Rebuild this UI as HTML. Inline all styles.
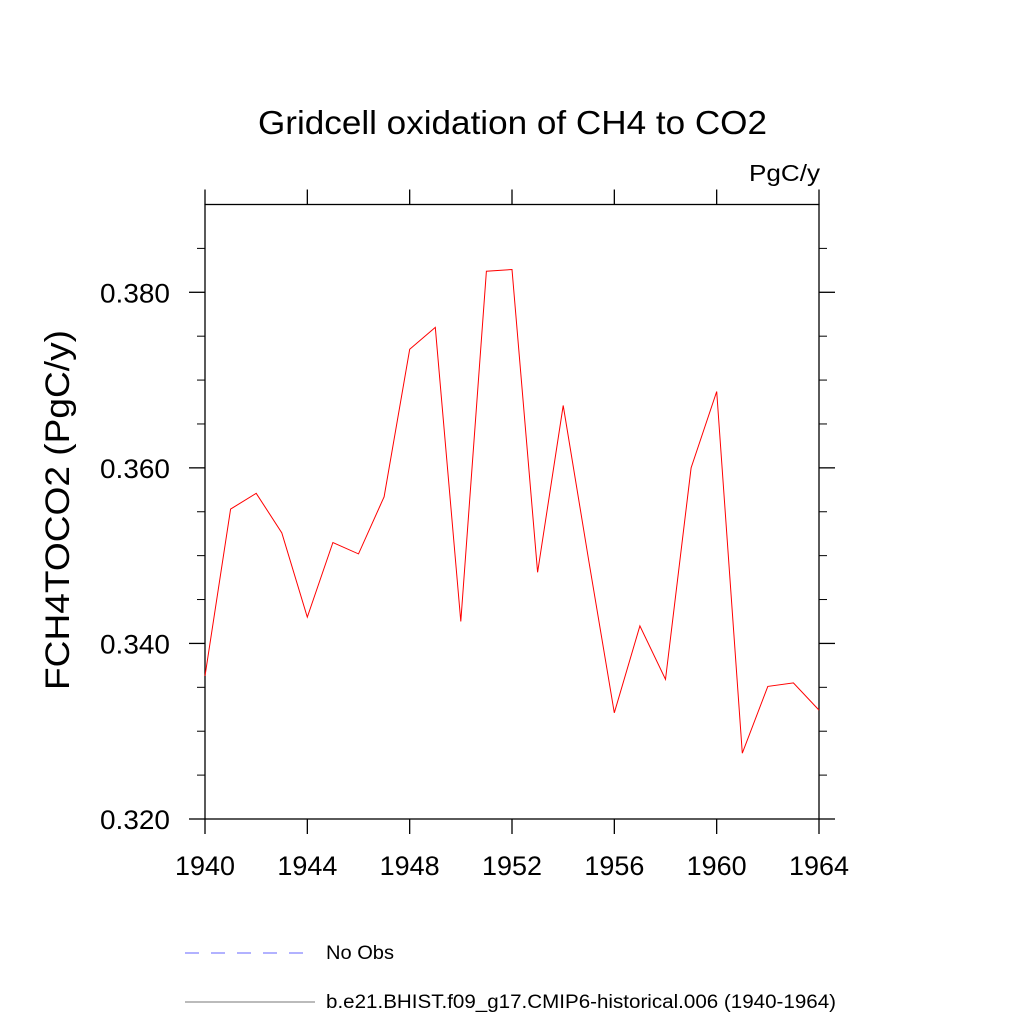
<!DOCTYPE html>
<html><head><meta charset="utf-8"><style>body{margin:0;background:#fff}svg{display:block}text{font-family:"Liberation Sans",sans-serif}</style></head>
<body>
<svg id="chart" width="1024" height="1024">
<text x="258" y="134" font-size="33" textLength="509" lengthAdjust="spacingAndGlyphs">Gridcell oxidation of CH4 to CO2</text>
<text x="749" y="181" font-size="23" textLength="71" lengthAdjust="spacingAndGlyphs">PgC/y</text>
<text transform="translate(60,690) rotate(-90)" font-size="34" textLength="360" lengthAdjust="spacingAndGlyphs" dominant-baseline="middle">FCH4TOCO2  (PgC/y)</text>
<g id="axes"></g>
<g id="series"></g>
<g>
<line x1="185" y1="953" x2="315" y2="953" stroke="#66f" stroke-dasharray="14,12"/>
<text x="326" y="959" font-size="19" textLength="68" lengthAdjust="spacingAndGlyphs">No Obs</text>
<line x1="185" y1="1002" x2="315" y2="1002" stroke="#777"/>
<text x="326" y="1008" font-size="19" textLength="510" lengthAdjust="spacingAndGlyphs">b.e21.BHIST.f09_g17.CMIP6-historical.006 (1940-1964)</text>
</g>
</svg>
<script>
const years=[1940,1941,1942,1943,1944,1945,1946,1947,1948,1949,1950,1951,1952,1953,1954,1955,1956,1957,1958,1959,1960,1961,1962,1963,1964];
const values=[0.3363,0.3553,0.3571,0.3526,0.3430,0.3515,0.3502,0.3567,0.3735,0.3760,0.3425,0.3824,0.3826,0.3481,0.3671,0.3494,0.3321,0.3420,0.3359,0.3600,0.3687,0.3275,0.3351,0.3355,0.3324];
const xTicks=[1940,1944,1948,1952,1956,1960,1964];
const yTicks=[0.320,0.340,0.360,0.380];
const yMinor=[0.325,0.330,0.335,0.345,0.350,0.355,0.365,0.370,0.375,0.385];
const X0=205,X1=819,Y0=819,Y1=204.5,xmin=1940,xmax=1964,ymin=0.32,ymax=0.39;
const xs=v=>X0+(v-xmin)/(xmax-xmin)*(X1-X0);
const ys=v=>Y0-(v-ymin)/(ymax-ymin)*(Y0-Y1);
const NS='http://www.w3.org/2000/svg';
const ax=document.getElementById('axes');
function mk(tag,attrs,parent){const e=document.createElementNS(NS,tag);for(const k in attrs)e.setAttribute(k,attrs[k]);parent.appendChild(e);return e;}
const frame=mk('rect',{x:X0,y:Y1,width:X1-X0,height:Y0-Y1,fill:'none',stroke:'#000','stroke-width':1.3},ax);


xTicks.forEach(t=>{const x=xs(t);
const a=mk('line',{x1:x,y1:Y0,x2:x,y2:Y0+15,stroke:'#000','stroke-width':1.3},ax);


const b=mk('line',{x1:x,y1:Y1,x2:x,y2:Y1-15,stroke:'#000','stroke-width':1.3},ax);


const l=mk('text',{x:x-30,y:875,'font-size':27,textLength:60,lengthAdjust:'spacingAndGlyphs'},ax);l.textContent=t;

});
yTicks.forEach(t=>{const y=ys(t);
const a=mk('line',{x1:X0-16,y1:y,x2:X0,y2:y,stroke:'#000','stroke-width':1.3},ax);


const b=mk('line',{x1:X1,y1:y,x2:X1+16,y2:y,stroke:'#000','stroke-width':1.3},ax);


const l=mk('text',{x:100,y:y+10,'font-size':27,textLength:70,lengthAdjust:'spacingAndGlyphs'},ax);l.textContent=t.toFixed(3);

});
yMinor.forEach(t=>{const y=ys(t);
const a=mk('line',{x1:X0-8,y1:y,x2:X0,y2:y,stroke:'#000','stroke-width':1},ax);


const b=mk('line',{x1:X1,y1:y,x2:X1+8,y2:y,stroke:'#000','stroke-width':1},ax);

});
const pts=years.map((yr,i)=>xs(yr).toFixed(1)+','+ys(values[i]).toFixed(1)).join(' ');
const pl=mk('polyline',{points:pts,fill:'none',stroke:'#f00','stroke-width':1},document.getElementById('series'));


</script>
</body></html>
